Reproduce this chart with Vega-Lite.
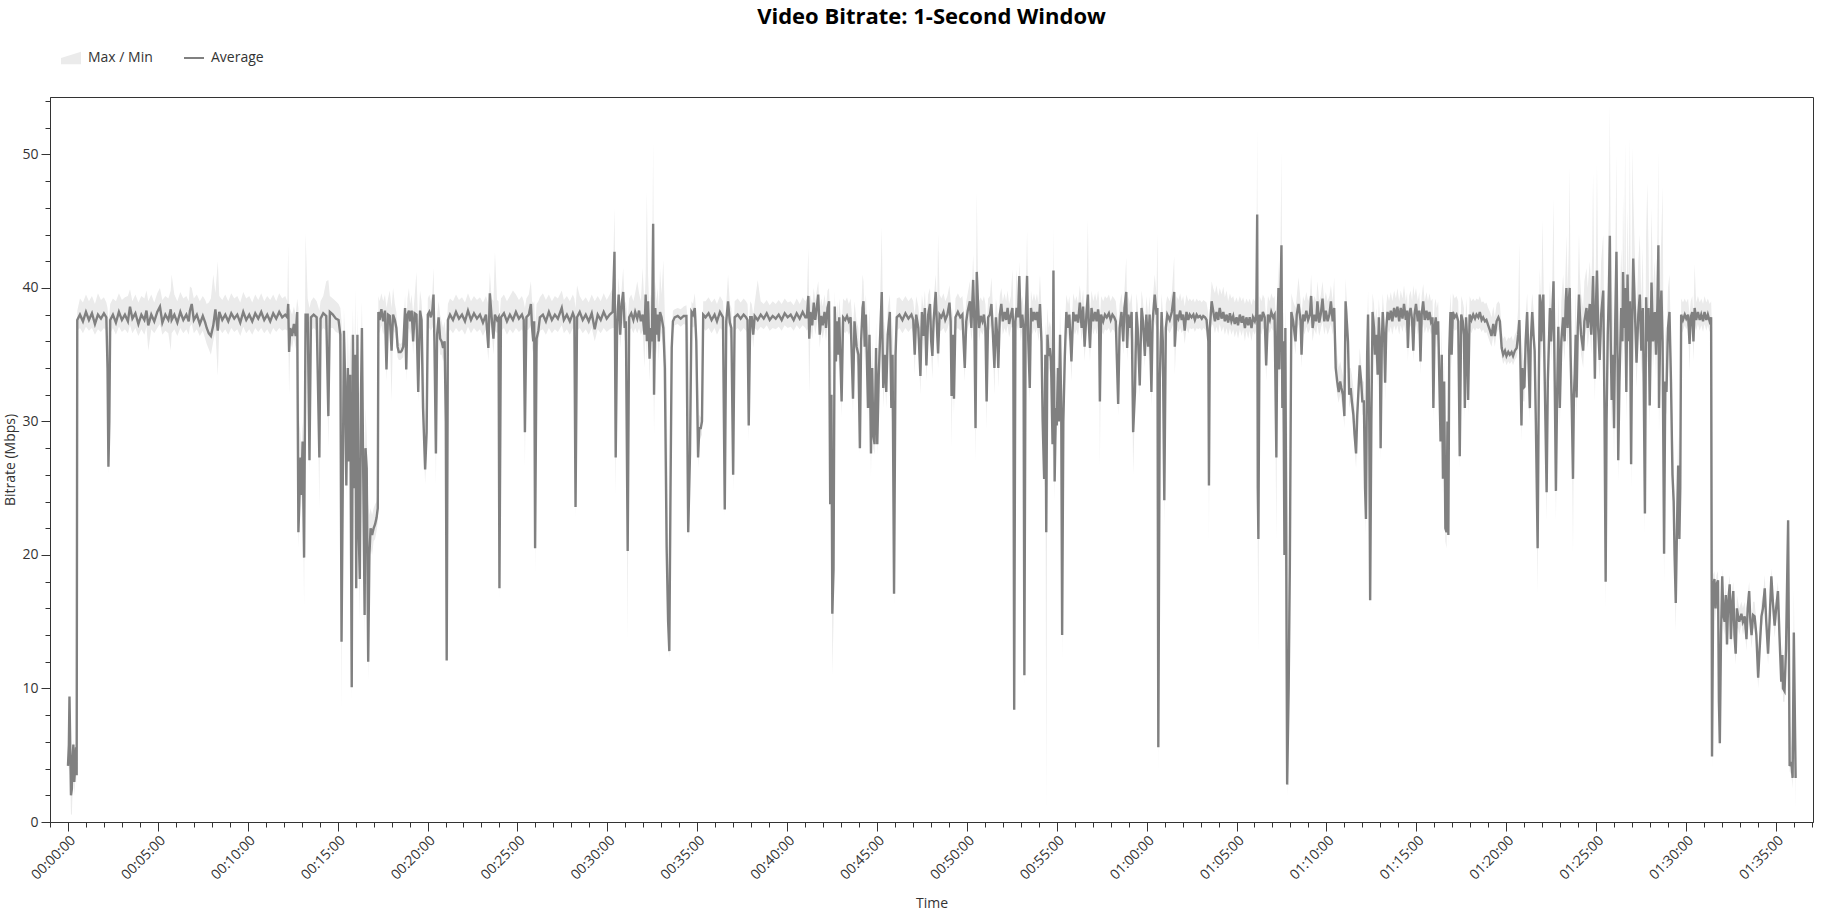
{
"$schema":"https://vega.github.io/schema/vega-lite/v6.json",
"width":1763,"height":725,
"autosize":"none",
"padding":{"left":50,"top":97,"right":19,"bottom":89},
"background":"white",
"title":{"text":"Video Bitrate: 1-Second Window","fontSize":22,"fontWeight":"bold","font":"Open Sans","color":"#000","anchor":"middle","dy":-14},
"data":{"values":[
{"t":0,"a":4.2,"l":3.8,"h":5.8},{"t":3,"a":5.8,"l":4.5,"h":6.5},{"t":5,"a":9.4,"l":4.0,"h":9.6},{"t":8,"a":5.0,"l":3.0,"h":6.0},{"t":10,"a":2.0,"l":0.5,"h":4.5},{"t":13,"a":2.5,"l":0.6,"h":3.5},{"t":15,"a":4.5,"l":2.0,"h":5.5},{"t":18,"a":5.8,"l":4.0,"h":6.2},{"t":21,"a":3.0,"l":2.0,"h":4.5},{"t":24,"a":4.2,"l":3.0,"h":5.0},{"t":27,"a":5.6,"l":4.0,"h":6.0},{"t":29,"a":3.5,"l":2.5,"h":5.0},{"t":31,"a":37.6,"l":36.8,"h":38.3},
{"t":40,"a":38.0,"l":37.0,"h":39.2},{"t":50,"a":37.5,"l":36.6,"h":38.9},{"t":60,"a":38.2,"l":37.1,"h":39.5},{"t":70,"a":37.6,"l":36.8,"h":39.0},{"t":80,"a":38.1,"l":37.0,"h":39.4},{"t":90,"a":37.3,"l":36.5,"h":38.8},{"t":100,"a":38.0,"l":36.9,"h":39.6},{"t":110,"a":37.7,"l":36.7,"h":39.1},{"t":120,"a":38.1,"l":37.0,"h":39.3},{"t":128,"a":37.8,"l":36.8,"h":38.9},{"t":132,"a":34.0,"l":33.0,"h":38.5},{"t":135,"a":26.6,"l":26.0,"h":37.5},{"t":138,"a":30.0,"l":29.0,"h":38.0},{"t":141,"a":37.6,"l":36.6,"h":38.8},{"t":150,"a":38.0,"l":37.0,"h":39.2},{"t":160,"a":37.4,"l":36.5,"h":39.0},{"t":170,"a":38.2,"l":37.1,"h":39.6},{"t":180,"a":37.6,"l":36.7,"h":39.1},{"t":190,"a":38.0,"l":36.9,"h":39.3},{"t":200,"a":37.5,"l":36.6,"h":39.4},{"t":207,"a":38.6,"l":37.2,"h":39.9},{"t":215,"a":37.7,"l":36.6,"h":39.0},{"t":225,"a":38.1,"l":37.0,"h":39.5},{"t":235,"a":37.3,"l":36.4,"h":38.9},{"t":245,"a":38.0,"l":36.9,"h":39.4},{"t":255,"a":37.6,"l":36.5,"h":39.2},{"t":262,"a":38.3,"l":37.1,"h":39.8},{"t":268,"a":37.2,"l":35.3,"h":39.0},{"t":278,"a":38.0,"l":36.9,"h":39.5},{"t":288,"a":37.5,"l":36.6,"h":38.9},{"t":298,"a":38.2,"l":37.0,"h":39.6},{"t":307,"a":38.6,"l":37.3,"h":40.0},{"t":315,"a":37.4,"l":36.5,"h":39.1},{"t":325,"a":38.0,"l":36.8,"h":39.4},{"t":335,"a":37.6,"l":36.6,"h":39.2},{"t":343,"a":38.4,"l":35.3,"h":39.8},{"t":346,"a":37.6,"l":36.6,"h":41.0},{"t":355,"a":38.0,"l":36.9,"h":39.5},{"t":365,"a":37.4,"l":36.4,"h":39.0},{"t":375,"a":38.2,"l":37.0,"h":39.7},{"t":385,"a":37.6,"l":36.6,"h":39.2},{"t":395,"a":38.0,"l":36.9,"h":39.4},{"t":403,"a":37.5,"l":36.5,"h":39.0},{"t":407,"a":38.3,"l":37.1,"h":40.1},{"t":413,"a":38.8,"l":37.3,"h":40.0},{"t":420,"a":37.6,"l":36.6,"h":39.2},{"t":430,"a":38.0,"l":36.9,"h":39.5},{"t":440,"a":37.3,"l":36.4,"h":39.0},{"t":450,"a":37.9,"l":36.8,"h":39.4},{"t":458,"a":37.4,"l":36.2,"h":39.1},{"t":463,"a":37.0,"l":35.8,"h":38.8},{"t":470,"a":36.6,"l":35.4,"h":38.9},{"t":477,"a":36.4,"l":35.0,"h":39.2},{"t":485,"a":37.2,"l":36.0,"h":41.0},{"t":492,"a":38.4,"l":36.8,"h":39.6},{"t":500,"a":36.8,"l":33.4,"h":42.0},{"t":505,"a":38.2,"l":37.0,"h":39.4},{"t":515,"a":37.6,"l":36.6,"h":39.1},{"t":525,"a":38.0,"l":36.9,"h":39.5},{"t":535,"a":37.5,"l":36.5,"h":39.0},{"t":545,"a":38.1,"l":37.0,"h":39.6},{"t":555,"a":37.7,"l":36.7,"h":39.2},{"t":565,"a":38.0,"l":36.9,"h":39.4},{"t":575,"a":37.4,"l":36.4,"h":38.9},{"t":585,"a":38.2,"l":37.1,"h":39.7},{"t":595,"a":37.6,"l":36.6,"h":39.2},{"t":605,"a":38.0,"l":36.9,"h":39.4},{"t":615,"a":37.5,"l":36.5,"h":38.9},{"t":625,"a":38.1,"l":37.0,"h":39.5},{"t":635,"a":37.7,"l":36.7,"h":39.1},{"t":645,"a":38.2,"l":37.0,"h":39.6},{"t":655,"a":37.6,"l":36.6,"h":39.0},{"t":665,"a":38.0,"l":36.9,"h":39.4},{"t":675,"a":37.5,"l":36.5,"h":39.1},{"t":685,"a":38.1,"l":37.0,"h":39.5},{"t":695,"a":37.7,"l":36.7,"h":39.0},{"t":705,"a":38.2,"l":37.0,"h":39.6},{"t":715,"a":37.8,"l":36.8,"h":39.2},{"t":725,"a":38.0,"l":36.9,"h":39.4},{"t":732,"a":37.8,"l":36.8,"h":39.0},
{"t":735,"a":38.8,"l":37.0,"h":43.2},{"t":738,"a":35.2,"l":32.0,"h":38.5},{"t":742,"a":37.0,"l":36.0,"h":38.4},{"t":748,"a":36.4,"l":35.5,"h":38.0},{"t":754,"a":37.3,"l":36.3,"h":38.6},{"t":760,"a":36.4,"l":35.4,"h":38.0},{"t":765,"a":38.2,"l":37.0,"h":39.2},{"t":769,"a":21.7,"l":20.5,"h":38.5},{"t":772,"a":23.8,"l":22.5,"h":30.0},{"t":776,"a":27.3,"l":26.0,"h":29.0},{"t":779,"a":24.5,"l":23.5,"h":27.5},{"t":783,"a":28.5,"l":27.0,"h":30.0},{"t":788,"a":19.8,"l":16.1,"h":28.0},{"t":793,"a":38.0,"l":36.5,"h":44.1},{"t":800,"a":38.0,"l":37.0,"h":39.2},{"t":806,"a":27.1,"l":26.0,"h":38.5},{"t":811,"a":37.8,"l":36.8,"h":39.0},{"t":820,"a":38.0,"l":37.0,"h":39.3},{"t":830,"a":37.8,"l":36.8,"h":39.0},{"t":839,"a":27.3,"l":23.4,"h":38.3},{"t":843,"a":37.7,"l":36.7,"h":39.0},{"t":852,"a":38.1,"l":37.0,"h":39.4},{"t":862,"a":37.9,"l":36.8,"h":40.5},{"t":869,"a":30.4,"l":28.0,"h":40.6},{"t":874,"a":38.2,"l":37.0,"h":39.4},{"t":884,"a":38.0,"l":37.0,"h":39.2},{"t":894,"a":37.7,"l":36.7,"h":39.0},{"t":903,"a":37.6,"l":36.6,"h":38.8},{"t":909,"a":36.5,"l":35.5,"h":38.5},{"t":913,"a":13.5,"l":8.4,"h":37.5},{"t":917,"a":25.0,"l":23.5,"h":30.0},{"t":921,"a":36.8,"l":35.0,"h":38.5},{"t":925,"a":33.0,"l":31.5,"h":36.0},{"t":929,"a":25.2,"l":24.0,"h":30.0},{"t":934,"a":34.0,"l":32.0,"h":37.0},{"t":938,"a":27.0,"l":25.5,"h":33.0},{"t":942,"a":33.5,"l":31.0,"h":36.5},{"t":947,"a":10.1,"l":8.9,"h":34.0},{"t":951,"a":36.5,"l":35.0,"h":38.5},{"t":955,"a":25.0,"l":23.5,"h":33.0},{"t":959,"a":35.0,"l":33.0,"h":40.0},{"t":962,"a":17.5,"l":16.0,"h":30.0},{"t":966,"a":36.5,"l":35.0,"h":38.5},{"t":970,"a":22.0,"l":20.5,"h":30.0},{"t":974,"a":18.2,"l":15.0,"h":24.0},{"t":978,"a":32.0,"l":29.0,"h":36.0},{"t":981,"a":37.0,"l":35.5,"h":39.0},{"t":985,"a":27.0,"l":25.5,"h":33.0},{"t":990,"a":15.5,"l":13.5,"h":24.0},{"t":993,"a":28.0,"l":26.0,"h":31.0},{"t":997,"a":26.5,"l":24.5,"h":29.0},{"t":1002,"a":12.0,"l":10.5,"h":24.0},{"t":1006,"a":20.0,"l":18.0,"h":23.0},{"t":1010,"a":22.0,"l":20.5,"h":23.5},{"t":1015,"a":21.5,"l":20.0,"h":23.0},{"t":1020,"a":22.0,"l":21.0,"h":23.5},{"t":1025,"a":22.3,"l":21.2,"h":23.8},{"t":1030,"a":22.8,"l":21.8,"h":24.0},{"t":1034,"a":23.5,"l":22.5,"h":25.0},{"t":1036,"a":38.2,"l":37.0,"h":39.4},
{"t":1040,"a":37.6,"l":36.6,"h":39.0},{"t":1046,"a":38.4,"l":37.2,"h":39.6},{"t":1052,"a":37.5,"l":36.5,"h":39.0},{"t":1058,"a":38.3,"l":37.0,"h":39.5},{"t":1063,"a":33.9,"l":33.0,"h":38.5},{"t":1068,"a":38.0,"l":36.9,"h":39.2},{"t":1074,"a":37.9,"l":36.8,"h":39.8},{"t":1080,"a":35.3,"l":31.5,"h":38.5},{"t":1085,"a":38.0,"l":36.9,"h":40.0},{"t":1091,"a":37.6,"l":36.6,"h":38.8},{"t":1096,"a":37.0,"l":36.0,"h":38.2},{"t":1100,"a":35.6,"l":34.8,"h":36.8},{"t":1104,"a":35.2,"l":34.6,"h":35.9},{"t":1110,"a":35.2,"l":34.6,"h":35.8},{"t":1114,"a":35.3,"l":34.7,"h":35.9},{"t":1119,"a":35.6,"l":34.8,"h":36.5},{"t":1125,"a":38.5,"l":37.0,"h":39.5},{"t":1129,"a":33.9,"l":33.0,"h":37.0},{"t":1133,"a":38.0,"l":36.8,"h":39.2},{"t":1138,"a":38.3,"l":37.0,"h":40.0},{"t":1142,"a":37.5,"l":36.5,"h":38.8},{"t":1147,"a":38.3,"l":37.0,"h":39.5},{"t":1152,"a":36.0,"l":35.0,"h":38.0},{"t":1157,"a":38.1,"l":37.0,"h":39.4},{"t":1163,"a":38.0,"l":36.8,"h":41.2},{"t":1169,"a":32.2,"l":31.5,"h":37.0},{"t":1175,"a":38.3,"l":37.0,"h":39.8},{"t":1180,"a":37.6,"l":36.5,"h":39.0},{"t":1185,"a":31.0,"l":30.0,"h":37.0},{"t":1192,"a":26.4,"l":25.3,"h":30.0},{"t":1197,"a":29.2,"l":28.0,"h":32.0},{"t":1201,"a":38.0,"l":36.8,"h":39.2},{"t":1206,"a":38.2,"l":37.0,"h":39.5},{"t":1211,"a":37.8,"l":36.8,"h":39.0},{"t":1216,"a":38.3,"l":37.0,"h":39.6},{"t":1220,"a":39.5,"l":37.5,"h":41.5},{"t":1223,"a":36.0,"l":35.0,"h":38.5},{"t":1228,"a":27.6,"l":25.2,"h":33.0},{"t":1232,"a":36.5,"l":35.0,"h":38.0},{"t":1237,"a":37.8,"l":36.5,"h":39.0},{"t":1242,"a":36.2,"l":35.0,"h":38.0},{"t":1247,"a":36.0,"l":35.0,"h":37.5},{"t":1252,"a":35.5,"l":34.5,"h":37.0},{"t":1257,"a":36.0,"l":35.0,"h":37.5},{"t":1261,"a":30.0,"l":28.0,"h":36.5},{"t":1264,"a":12.1,"l":11.6,"h":37.0},{"t":1268,"a":37.6,"l":36.5,"h":38.8},
{"t":1275,"a":38.0,"l":36.9,"h":39.2},{"t":1285,"a":37.6,"l":36.6,"h":39.0},{"t":1295,"a":38.2,"l":37.0,"h":39.5},{"t":1305,"a":37.7,"l":36.7,"h":39.1},{"t":1315,"a":38.0,"l":36.9,"h":39.3},{"t":1325,"a":37.5,"l":36.5,"h":38.9},{"t":1335,"a":38.3,"l":37.1,"h":39.6},{"t":1345,"a":37.6,"l":36.6,"h":39.0},{"t":1355,"a":38.1,"l":37.0,"h":39.4},{"t":1365,"a":37.7,"l":36.7,"h":39.1},{"t":1375,"a":38.0,"l":36.9,"h":39.3},{"t":1385,"a":37.4,"l":36.4,"h":38.9},{"t":1395,"a":38.0,"l":36.9,"h":39.4},{"t":1403,"a":35.5,"l":34.5,"h":38.8},{"t":1408,"a":39.6,"l":37.5,"h":41.2},{"t":1414,"a":37.8,"l":36.8,"h":39.2},{"t":1420,"a":36.2,"l":35.0,"h":39.0},{"t":1425,"a":38.0,"l":36.8,"h":42.7},{"t":1432,"a":37.6,"l":36.6,"h":39.1},{"t":1437,"a":37.8,"l":36.8,"h":39.0},{"t":1440,"a":17.5,"l":16.5,"h":37.6},{"t":1445,"a":37.8,"l":36.8,"h":39.2},{"t":1455,"a":38.1,"l":37.0,"h":39.5},{"t":1465,"a":37.5,"l":36.5,"h":39.0},{"t":1475,"a":38.0,"l":36.9,"h":39.4},{"t":1485,"a":37.6,"l":36.6,"h":39.8},{"t":1495,"a":38.2,"l":37.0,"h":39.5},{"t":1505,"a":37.7,"l":36.7,"h":39.1},{"t":1515,"a":38.0,"l":36.9,"h":39.4},{"t":1521,"a":37.6,"l":36.6,"h":39.0},{"t":1525,"a":29.2,"l":26.6,"h":38.5},{"t":1530,"a":37.8,"l":36.8,"h":39.2},{"t":1538,"a":38.0,"l":36.9,"h":39.5},{"t":1545,"a":38.8,"l":37.2,"h":40.5},{"t":1549,"a":37.0,"l":35.5,"h":39.0},{"t":1553,"a":36.0,"l":35.0,"h":38.8},{"t":1556,"a":37.5,"l":35.5,"h":39.0},{"t":1559,"a":20.5,"l":18.5,"h":37.0},{"t":1564,"a":36.2,"l":35.0,"h":38.8},{"t":1570,"a":36.8,"l":35.8,"h":39.0},{"t":1575,"a":37.8,"l":36.8,"h":39.3},{"t":1585,"a":38.0,"l":36.9,"h":39.6},{"t":1595,"a":37.5,"l":36.5,"h":39.1},{"t":1605,"a":38.2,"l":37.0,"h":39.5},{"t":1615,"a":37.6,"l":36.6,"h":39.0},{"t":1625,"a":38.0,"l":36.9,"h":39.4},{"t":1635,"a":37.7,"l":36.7,"h":39.2},{"t":1648,"a":38.5,"l":37.2,"h":39.8},{"t":1655,"a":37.6,"l":36.6,"h":39.1},{"t":1665,"a":38.0,"l":36.9,"h":39.4},{"t":1675,"a":37.5,"l":36.5,"h":39.0},{"t":1685,"a":38.1,"l":37.0,"h":39.5},{"t":1690,"a":37.8,"l":36.8,"h":39.2},{"t":1694,"a":23.6,"l":22.6,"h":38.5},{"t":1699,"a":37.8,"l":36.8,"h":40.2},{"t":1708,"a":38.2,"l":37.0,"h":39.4},{"t":1718,"a":37.6,"l":36.6,"h":39.0},{"t":1728,"a":38.0,"l":36.9,"h":39.3},{"t":1738,"a":37.5,"l":36.5,"h":38.9},{"t":1748,"a":38.1,"l":37.0,"h":39.5},{"t":1758,"a":36.9,"l":36.0,"h":39.0},{"t":1768,"a":38.0,"l":36.9,"h":39.4},{"t":1778,"a":37.6,"l":36.6,"h":39.0},{"t":1788,"a":38.2,"l":37.0,"h":39.6},{"t":1798,"a":37.7,"l":36.7,"h":39.1},{"t":1808,"a":38.0,"l":36.9,"h":39.5},
{"t":1818,"a":38.2,"l":37.0,"h":40.0},{"t":1824,"a":42.7,"l":37.0,"h":46.0},{"t":1828,"a":27.3,"l":24.5,"h":38.0},{"t":1833,"a":37.5,"l":36.5,"h":39.0},{"t":1838,"a":39.5,"l":37.5,"h":40.8},{"t":1843,"a":36.5,"l":35.5,"h":38.5},{"t":1848,"a":38.8,"l":37.0,"h":40.0},{"t":1853,"a":39.7,"l":37.5,"h":41.5},{"t":1858,"a":37.0,"l":36.0,"h":38.8},{"t":1862,"a":37.5,"l":36.5,"h":39.0},{"t":1868,"a":20.3,"l":13.5,"h":37.6},{"t":1873,"a":37.8,"l":36.8,"h":39.2},{"t":1880,"a":38.1,"l":37.0,"h":39.5},{"t":1887,"a":37.6,"l":36.6,"h":39.0},{"t":1893,"a":38.2,"l":37.0,"h":39.6},{"t":1900,"a":37.7,"l":36.6,"h":40.5},{"t":1906,"a":38.3,"l":37.0,"h":39.6},{"t":1912,"a":37.5,"l":36.5,"h":39.0},{"t":1918,"a":38.0,"l":36.8,"h":41.5},{"t":1924,"a":36.5,"l":34.0,"h":38.5},{"t":1928,"a":39.5,"l":37.5,"h":41.0},{"t":1932,"a":36.0,"l":34.5,"h":47.2},{"t":1936,"a":39.0,"l":37.0,"h":41.0},{"t":1941,"a":34.7,"l":33.0,"h":38.0},{"t":1945,"a":37.0,"l":35.5,"h":39.5},{"t":1949,"a":36.0,"l":34.5,"h":39.0},{"t":1953,"a":44.8,"l":36.0,"h":51.0},{"t":1956,"a":32.0,"l":29.0,"h":38.0},{"t":1960,"a":38.5,"l":36.5,"h":40.5},{"t":1964,"a":36.5,"l":35.0,"h":39.0},{"t":1968,"a":38.0,"l":36.5,"h":40.0},{"t":1972,"a":36.0,"l":34.5,"h":38.5},{"t":1976,"a":38.2,"l":37.0,"h":41.5},{"t":1981,"a":37.8,"l":36.5,"h":39.5},{"t":1987,"a":37.0,"l":35.5,"h":42.1},{"t":1992,"a":34.0,"l":32.5,"h":38.0},{"t":1998,"a":20.6,"l":19.5,"h":34.0},{"t":2003,"a":15.0,"l":14.0,"h":21.0},{"t":2007,"a":12.8,"l":12.2,"h":16.0},{"t":2011,"a":25.0,"l":22.0,"h":27.0},{"t":2015,"a":35.5,"l":33.0,"h":36.5},{"t":2019,"a":37.5,"l":36.5,"h":38.3},{"t":2025,"a":37.8,"l":37.2,"h":38.4},{"t":2035,"a":37.9,"l":37.3,"h":38.5},{"t":2045,"a":37.7,"l":37.1,"h":38.4},{"t":2055,"a":37.9,"l":37.3,"h":38.6},{"t":2064,"a":37.9,"l":37.2,"h":38.7},{"t":2070,"a":21.7,"l":21.0,"h":37.0},{"t":2076,"a":27.6,"l":26.5,"h":30.0},{"t":2081,"a":38.2,"l":37.2,"h":39.0},{"t":2086,"a":38.0,"l":37.0,"h":38.8},{"t":2092,"a":38.5,"l":37.2,"h":39.6},{"t":2097,"a":36.0,"l":35.0,"h":38.0},{"t":2103,"a":27.3,"l":26.5,"h":33.0},{"t":2107,"a":29.5,"l":28.5,"h":30.5},{"t":2112,"a":29.5,"l":28.8,"h":30.3},{"t":2116,"a":30.0,"l":29.0,"h":31.0},{"t":2120,"a":38.0,"l":37.0,"h":39.0},{"t":2128,"a":37.8,"l":36.8,"h":39.0},{"t":2138,"a":38.1,"l":37.0,"h":39.3},{"t":2148,"a":37.6,"l":36.6,"h":38.9},{"t":2158,"a":38.0,"l":37.0,"h":39.2},{"t":2166,"a":37.5,"l":36.5,"h":38.8},{"t":2176,"a":38.2,"l":37.0,"h":39.4},{"t":2186,"a":37.8,"l":36.8,"h":39.0},{"t":2192,"a":23.4,"l":22.8,"h":37.0},{"t":2197,"a":37.5,"l":36.5,"h":38.8},{"t":2203,"a":39.0,"l":37.5,"h":41.0},{"t":2209,"a":37.4,"l":36.4,"h":38.8},{"t":2214,"a":37.0,"l":36.0,"h":38.5},{"t":2220,"a":26.0,"l":24.7,"h":35.0},{"t":2225,"a":37.8,"l":36.8,"h":39.0},{"t":2235,"a":38.0,"l":37.0,"h":39.2},{"t":2245,"a":37.7,"l":36.7,"h":38.9},{"t":2255,"a":38.0,"l":37.0,"h":39.2},{"t":2263,"a":37.8,"l":36.8,"h":39.0},{"t":2268,"a":37.6,"l":36.6,"h":38.8},{"t":2272,"a":29.7,"l":28.5,"h":37.0},{"t":2277,"a":37.8,"l":36.8,"h":39.0},
{"t":2282,"a":37.8,"l":37.0,"h":38.8},{"t":2287,"a":36.5,"l":35.5,"h":38.0},{"t":2292,"a":37.9,"l":37.0,"h":38.9},{"t":2302,"a":37.6,"l":36.8,"h":40.6},{"t":2312,"a":38.0,"l":37.1,"h":39.0},{"t":2322,"a":37.7,"l":36.9,"h":38.8},{"t":2332,"a":38.1,"l":37.2,"h":39.1},{"t":2342,"a":37.6,"l":36.8,"h":38.7},{"t":2352,"a":37.9,"l":37.0,"h":39.0},{"t":2362,"a":37.7,"l":36.9,"h":38.8},{"t":2372,"a":38.0,"l":37.1,"h":39.1},{"t":2382,"a":37.6,"l":36.8,"h":38.8},{"t":2392,"a":38.1,"l":37.2,"h":39.2},{"t":2402,"a":37.8,"l":37.0,"h":38.9},{"t":2412,"a":38.0,"l":37.1,"h":39.0},{"t":2422,"a":37.6,"l":36.8,"h":38.7},{"t":2432,"a":38.1,"l":37.2,"h":39.2},{"t":2442,"a":37.7,"l":36.9,"h":38.8},{"t":2452,"a":38.2,"l":37.2,"h":39.3},{"t":2461,"a":37.8,"l":37.0,"h":39.0},{"t":2466,"a":37.8,"l":36.8,"h":39.2},{"t":2471,"a":39.4,"l":37.0,"h":43.0},{"t":2474,"a":36.2,"l":32.0,"h":38.5},{"t":2478,"a":38.2,"l":37.0,"h":39.5},{"t":2484,"a":37.2,"l":36.2,"h":38.6},{"t":2489,"a":38.9,"l":37.5,"h":40.0},{"t":2494,"a":37.6,"l":36.5,"h":39.0},{"t":2499,"a":38.5,"l":37.2,"h":39.8},{"t":2504,"a":39.5,"l":37.8,"h":40.5},{"t":2509,"a":36.5,"l":35.5,"h":38.5},{"t":2514,"a":37.9,"l":36.8,"h":39.2},{"t":2519,"a":37.2,"l":36.2,"h":38.6},{"t":2525,"a":38.2,"l":37.0,"h":39.5},{"t":2530,"a":37.0,"l":36.0,"h":38.5},{"t":2535,"a":38.5,"l":37.2,"h":39.8},{"t":2540,"a":39.0,"l":37.5,"h":40.0},{"t":2544,"a":23.8,"l":22.5,"h":38.0},{"t":2548,"a":32.0,"l":30.0,"h":35.0},{"t":2551,"a":15.6,"l":11.0,"h":30.0},{"t":2555,"a":18.9,"l":15.0,"h":25.0},{"t":2559,"a":38.6,"l":37.0,"h":39.8},{"t":2563,"a":34.5,"l":33.0,"h":37.0},{"t":2567,"a":37.5,"l":36.5,"h":39.0},{"t":2571,"a":35.0,"l":34.0,"h":37.5},{"t":2574,"a":37.8,"l":36.8,"h":39.2},{"t":2582,"a":31.5,"l":30.3,"h":37.0},{"t":2587,"a":37.8,"l":36.8,"h":39.2},{"t":2594,"a":37.6,"l":36.6,"h":39.0},{"t":2600,"a":37.9,"l":36.8,"h":39.3},{"t":2606,"a":37.5,"l":36.5,"h":38.8},{"t":2612,"a":37.8,"l":36.8,"h":39.2},{"t":2620,"a":31.7,"l":30.5,"h":37.0},{"t":2625,"a":37.5,"l":36.5,"h":39.0},{"t":2632,"a":35.6,"l":34.5,"h":37.5},{"t":2638,"a":35.0,"l":34.0,"h":37.0},{"t":2643,"a":28.0,"l":27.5,"h":33.0},{"t":2647,"a":36.0,"l":34.5,"h":38.0},{"t":2652,"a":38.5,"l":37.0,"h":41.0},{"t":2655,"a":39.0,"l":37.5,"h":40.5},{"t":2659,"a":35.6,"l":34.5,"h":38.0},{"t":2663,"a":38.0,"l":36.8,"h":39.5},{"t":2670,"a":31.0,"l":30.0,"h":36.0},{"t":2675,"a":36.5,"l":35.0,"h":38.5},{"t":2680,"a":27.6,"l":25.8,"h":33.0},{"t":2684,"a":34.0,"l":32.5,"h":36.0},{"t":2688,"a":29.0,"l":28.0,"h":33.0},{"t":2692,"a":28.3,"l":27.5,"h":31.0},{"t":2697,"a":35.5,"l":34.0,"h":37.5},{"t":2701,"a":28.3,"l":27.5,"h":33.0},{"t":2706,"a":33.5,"l":32.0,"h":36.0},{"t":2710,"a":36.0,"l":34.5,"h":38.5},{"t":2716,"a":39.7,"l":37.5,"h":44.6},{"t":2721,"a":32.5,"l":31.0,"h":36.0},{"t":2726,"a":35.0,"l":33.5,"h":37.5},{"t":2731,"a":32.2,"l":31.0,"h":35.5},{"t":2736,"a":36.5,"l":35.0,"h":38.5},{"t":2743,"a":38.2,"l":37.0,"h":39.5},{"t":2748,"a":31.0,"l":30.0,"h":36.0},{"t":2752,"a":35.0,"l":33.5,"h":37.5},{"t":2757,"a":17.1,"l":16.1,"h":33.0},{"t":2762,"a":35.0,"l":33.0,"h":37.5},{"t":2766,"a":37.8,"l":36.8,"h":39.2},{"t":2775,"a":38.0,"l":37.0,"h":39.3},{"t":2785,"a":37.6,"l":36.6,"h":39.0},{"t":2795,"a":38.1,"l":37.0,"h":39.4},{"t":2805,"a":37.7,"l":36.7,"h":39.0},{"t":2815,"a":38.0,"l":37.0,"h":39.3},{"t":2821,"a":37.6,"l":36.6,"h":39.0},{"t":2826,"a":35.0,"l":33.5,"h":38.0},{"t":2831,"a":38.0,"l":36.8,"h":39.4},{"t":2838,"a":37.0,"l":36.0,"h":38.6},{"t":2845,"a":33.4,"l":32.0,"h":37.0},{"t":2850,"a":38.2,"l":37.0,"h":39.5},{"t":2855,"a":36.4,"l":35.3,"h":38.5},{"t":2860,"a":38.5,"l":37.2,"h":39.8},{"t":2865,"a":34.2,"l":33.0,"h":37.5},{"t":2871,"a":38.0,"l":36.8,"h":39.5},{"t":2877,"a":38.8,"l":37.5,"h":40.0},{"t":2881,"a":36.0,"l":35.0,"h":38.0},{"t":2885,"a":34.9,"l":33.2,"h":37.5},{"t":2889,"a":37.5,"l":36.5,"h":39.0},{"t":2896,"a":39.7,"l":37.5,"h":41.0},{"t":2901,"a":36.6,"l":35.5,"h":38.5},{"t":2904,"a":35.1,"l":34.0,"h":44.1},{"t":2909,"a":38.0,"l":36.8,"h":39.5},{"t":2915,"a":37.8,"l":36.8,"h":39.2},{"t":2922,"a":38.2,"l":37.0,"h":39.6},{"t":2928,"a":37.6,"l":36.6,"h":39.0},{"t":2935,"a":38.0,"l":36.9,"h":39.4},{"t":2942,"a":38.9,"l":37.5,"h":40.2},{"t":2946,"a":37.5,"l":36.5,"h":39.0},{"t":2949,"a":31.9,"l":28.0,"h":37.0},{"t":2953,"a":36.5,"l":35.0,"h":38.5},{"t":2957,"a":31.7,"l":30.5,"h":36.0},{"t":2962,"a":37.8,"l":36.8,"h":39.2},{"t":2970,"a":38.2,"l":37.0,"h":39.6},{"t":2978,"a":37.8,"l":36.8,"h":39.2},{"t":2985,"a":38.0,"l":36.9,"h":39.4},{"t":2993,"a":34.0,"l":33.0,"h":37.5},{"t":2998,"a":37.5,"l":36.5,"h":39.0},{"t":3003,"a":38.3,"l":37.0,"h":39.6},{"t":3010,"a":39.0,"l":37.5,"h":40.5},{"t":3015,"a":37.0,"l":36.0,"h":38.8},{"t":3021,"a":40.6,"l":37.5,"h":42.5},{"t":3025,"a":37.5,"l":36.5,"h":39.5},{"t":3029,"a":29.5,"l":27.0,"h":36.0},{"t":3033,"a":41.2,"l":37.0,"h":47.2},{"t":3037,"a":39.0,"l":37.5,"h":41.0},{"t":3041,"a":37.0,"l":36.0,"h":39.0},{"t":3046,"a":37.9,"l":36.8,"h":39.3},{"t":3052,"a":37.5,"l":36.5,"h":39.0},{"t":3057,"a":38.0,"l":36.9,"h":39.4},{"t":3062,"a":37.0,"l":36.0,"h":38.8},{"t":3066,"a":31.5,"l":29.4,"h":37.0},{"t":3071,"a":37.8,"l":36.8,"h":39.2},{"t":3077,"a":38.0,"l":36.9,"h":39.4},{"t":3082,"a":38.8,"l":37.3,"h":40.8},{"t":3087,"a":36.5,"l":35.5,"h":38.5},{"t":3092,"a":34.0,"l":32.0,"h":37.0},{"t":3097,"a":37.8,"l":36.8,"h":39.2},{"t":3101,"a":36.5,"l":35.5,"h":38.5},{"t":3105,"a":34.0,"l":32.5,"h":37.0},{"t":3110,"a":38.0,"l":36.9,"h":39.4},{"t":3115,"a":38.8,"l":37.5,"h":40.0},{"t":3120,"a":37.5,"l":36.5,"h":39.0},{"t":3126,"a":38.2,"l":37.0,"h":39.6},{"t":3131,"a":37.6,"l":36.6,"h":39.0},{"t":3136,"a":38.5,"l":37.2,"h":39.8},{"t":3141,"a":37.3,"l":36.3,"h":38.8},{"t":3147,"a":38.0,"l":36.9,"h":39.4},{"t":3152,"a":38.5,"l":37.2,"h":41.4},{"t":3155,"a":37.0,"l":36.0,"h":38.8},{"t":3158,"a":8.4,"l":8.0,"h":36.0},{"t":3162,"a":37.5,"l":36.5,"h":39.0},{"t":3166,"a":38.5,"l":37.2,"h":41.4},{"t":3171,"a":37.8,"l":36.8,"h":39.2},{"t":3175,"a":40.9,"l":37.5,"h":42.0},{"t":3180,"a":37.0,"l":36.0,"h":38.8},{"t":3185,"a":38.0,"l":36.9,"h":39.4},{"t":3189,"a":37.0,"l":36.0,"h":38.6},{"t":3192,"a":11.0,"l":9.8,"h":36.0},{"t":3196,"a":37.5,"l":36.5,"h":39.0},{"t":3201,"a":40.9,"l":37.5,"h":44.3},{"t":3205,"a":36.0,"l":35.0,"h":38.5},{"t":3210,"a":32.5,"l":31.5,"h":36.0},{"t":3214,"a":38.5,"l":37.2,"h":39.8},{"t":3219,"a":37.5,"l":36.5,"h":39.0},{"t":3224,"a":38.2,"l":37.0,"h":39.6},{"t":3229,"a":37.6,"l":36.6,"h":39.0},{"t":3234,"a":38.2,"l":37.0,"h":39.6},{"t":3239,"a":37.0,"l":36.0,"h":38.8},{"t":3244,"a":38.8,"l":37.3,"h":41.0},{"t":3249,"a":36.0,"l":35.0,"h":38.5},{"t":3253,"a":30.0,"l":29.0,"h":35.0},{"t":3258,"a":25.7,"l":25.0,"h":30.0},{"t":3262,"a":35.0,"l":33.5,"h":37.5},{"t":3265,"a":21.7,"l":0.4,"h":36.0},{"t":3269,"a":36.5,"l":35.0,"h":38.5},{"t":3273,"a":34.9,"l":33.5,"h":37.0},{"t":3277,"a":35.5,"l":34.0,"h":37.5},{"t":3281,"a":34.5,"l":33.0,"h":37.0},{"t":3286,"a":28.3,"l":27.0,"h":33.0},{"t":3289,"a":41.3,"l":36.0,"h":44.6},{"t":3293,"a":25.5,"l":24.0,"h":33.0},{"t":3297,"a":31.0,"l":29.5,"h":34.0},{"t":3300,"a":29.7,"l":28.5,"h":32.0},{"t":3304,"a":34.0,"l":32.5,"h":36.0},{"t":3307,"a":30.0,"l":29.0,"h":33.0},{"t":3311,"a":36.5,"l":35.0,"h":38.5},{"t":3315,"a":31.0,"l":29.5,"h":35.0},{"t":3318,"a":14.0,"l":12.0,"h":32.0},{"t":3322,"a":30.0,"l":28.0,"h":34.0},{"t":3327,"a":34.9,"l":33.5,"h":37.0},{"t":3332,"a":38.2,"l":37.0,"h":39.5},{"t":3338,"a":37.0,"l":36.0,"h":38.8},{"t":3342,"a":38.0,"l":36.9,"h":39.4},{"t":3349,"a":34.5,"l":33.0,"h":37.0},{"t":3355,"a":38.2,"l":37.0,"h":39.6},{"t":3361,"a":37.5,"l":36.5,"h":39.0},{"t":3366,"a":38.0,"l":36.9,"h":39.4},{"t":3371,"a":37.4,"l":36.4,"h":38.8},{"t":3377,"a":38.9,"l":37.5,"h":40.2},{"t":3383,"a":37.0,"l":36.0,"h":38.8},{"t":3388,"a":38.6,"l":37.2,"h":39.9},{"t":3393,"a":35.6,"l":34.5,"h":38.0},{"t":3399,"a":38.0,"l":36.9,"h":39.4},{"t":3404,"a":39.5,"l":37.5,"h":45.1},{"t":3407,"a":37.3,"l":36.3,"h":39.0},{"t":3411,"a":35.5,"l":34.5,"h":38.0},{"t":3416,"a":38.5,"l":37.2,"h":39.8},{"t":3422,"a":37.5,"l":36.5,"h":39.0},{"t":3428,"a":38.2,"l":37.0,"h":39.6},{"t":3433,"a":37.5,"l":36.5,"h":39.0},{"t":3438,"a":38.4,"l":37.2,"h":39.8},{"t":3441,"a":37.8,"l":36.8,"h":39.2},{"t":3444,"a":31.5,"l":26.6,"h":37.5},{"t":3448,"a":38.0,"l":36.9,"h":39.4},{"t":3455,"a":37.5,"l":36.5,"h":39.0},{"t":3461,"a":38.0,"l":36.9,"h":39.4},{"t":3467,"a":37.8,"l":36.8,"h":39.2},{"t":3474,"a":38.1,"l":37.0,"h":39.5},{"t":3480,"a":37.6,"l":36.6,"h":39.0},{"t":3486,"a":38.0,"l":36.9,"h":39.4},{"t":3492,"a":37.8,"l":36.8,"h":39.2},{"t":3497,"a":37.5,"l":36.5,"h":39.0},{"t":3505,"a":31.3,"l":30.4,"h":37.0},{"t":3510,"a":37.0,"l":36.0,"h":38.8},{"t":3516,"a":38.2,"l":37.0,"h":39.6},{"t":3522,"a":36.0,"l":35.0,"h":38.2},{"t":3526,"a":38.5,"l":37.2,"h":39.8},{"t":3532,"a":39.7,"l":37.5,"h":42.3},{"t":3535,"a":35.5,"l":34.5,"h":38.0},{"t":3539,"a":38.0,"l":36.9,"h":39.4},{"t":3544,"a":37.0,"l":36.0,"h":38.8},{"t":3550,"a":38.2,"l":37.0,"h":39.6},{"t":3555,"a":29.2,"l":26.0,"h":37.0},{"t":3561,"a":32.2,"l":31.0,"h":35.0},{"t":3566,"a":38.2,"l":37.0,"h":39.6},{"t":3570,"a":37.0,"l":36.0,"h":38.8},{"t":3577,"a":32.7,"l":31.8,"h":36.0},{"t":3583,"a":38.5,"l":37.2,"h":39.8},{"t":3588,"a":37.5,"l":36.5,"h":39.0},{"t":3594,"a":34.9,"l":34.0,"h":37.0},{"t":3599,"a":38.0,"l":36.9,"h":39.4},{"t":3605,"a":35.6,"l":34.5,"h":38.0},{"t":3610,"a":38.0,"l":36.9,"h":39.4},{"t":3616,"a":32.2,"l":31.0,"h":36.0},{"t":3620,"a":37.5,"l":36.5,"h":39.0},{"t":3627,"a":39.5,"l":37.5,"h":41.0},{"t":3633,"a":38.0,"l":36.9,"h":39.5},{"t":3636,"a":38.5,"l":37.0,"h":44.1},{"t":3639,"a":5.6,"l":3.5,"h":37.5},{"t":3644,"a":33.2,"l":31.0,"h":36.0},{"t":3650,"a":38.2,"l":37.0,"h":39.6},{"t":3654,"a":36.0,"l":35.0,"h":38.2},{"t":3659,"a":24.1,"l":22.0,"h":33.0},{"t":3664,"a":37.0,"l":36.0,"h":38.8},{"t":3669,"a":38.0,"l":36.9,"h":39.4},{"t":3677,"a":37.6,"l":36.6,"h":39.0},{"t":3684,"a":38.2,"l":37.0,"h":39.6},{"t":3692,"a":39.7,"l":37.5,"h":42.4},{"t":3694,"a":35.6,"l":33.5,"h":38.0},{"t":3700,"a":38.0,"l":36.9,"h":39.4},{"t":3706,"a":37.7,"l":36.7,"h":39.1},{"t":3712,"a":38.3,"l":37.0,"h":39.6},{"t":3717,"a":37.6,"l":36.6,"h":39.0},{"t":3722,"a":38.0,"l":36.9,"h":39.4},{"t":3727,"a":36.8,"l":35.8,"h":38.6},{"t":3733,"a":38.2,"l":37.0,"h":39.5},{"t":3739,"a":37.6,"l":36.6,"h":39.0},{"t":3744,"a":38.0,"l":37.0,"h":39.2},{"t":3750,"a":37.8,"l":36.9,"h":39.0},{"t":3756,"a":38.0,"l":37.0,"h":39.2},{"t":3761,"a":37.6,"l":36.7,"h":38.9},{"t":3767,"a":38.0,"l":37.0,"h":39.2},{"t":3772,"a":37.8,"l":36.9,"h":39.0},{"t":3778,"a":37.9,"l":37.0,"h":39.1},{"t":3784,"a":37.7,"l":36.8,"h":38.9},{"t":3789,"a":37.9,"l":37.0,"h":39.1},{"t":3795,"a":37.8,"l":36.9,"h":39.0},{"t":3800,"a":37.6,"l":36.7,"h":38.9},{"t":3806,"a":36.0,"l":35.0,"h":38.0},{"t":3808,"a":25.2,"l":20.8,"h":36.0},{"t":3811,"a":37.0,"l":36.0,"h":38.5},{"t":3817,"a":39.0,"l":37.3,"h":40.5},{"t":3822,"a":38.3,"l":37.2,"h":40.0},{"t":3828,"a":37.5,"l":36.6,"h":39.6},{"t":3833,"a":38.2,"l":37.1,"h":40.2},{"t":3839,"a":37.6,"l":36.6,"h":39.4},{"t":3844,"a":38.5,"l":37.3,"h":40.0},{"t":3850,"a":37.7,"l":36.7,"h":39.5},{"t":3856,"a":38.2,"l":37.1,"h":40.1},{"t":3861,"a":37.5,"l":36.5,"h":39.3},{"t":3867,"a":38.0,"l":37.0,"h":39.8},{"t":3872,"a":37.4,"l":36.4,"h":39.0},{"t":3878,"a":38.1,"l":37.0,"h":39.6},{"t":3883,"a":37.5,"l":36.5,"h":39.2},{"t":3889,"a":37.9,"l":36.9,"h":39.4},{"t":3894,"a":37.3,"l":36.3,"h":38.9},{"t":3900,"a":37.8,"l":36.8,"h":39.3},{"t":3905,"a":37.2,"l":36.2,"h":38.9},{"t":3911,"a":38.0,"l":36.9,"h":39.4},{"t":3917,"a":37.4,"l":36.4,"h":39.0},{"t":3922,"a":37.9,"l":36.9,"h":39.3},{"t":3928,"a":37.0,"l":36.0,"h":38.8},{"t":3933,"a":37.8,"l":36.8,"h":39.2},{"t":3939,"a":37.2,"l":36.2,"h":38.9},{"t":3944,"a":37.8,"l":36.8,"h":39.2},{"t":3950,"a":37.0,"l":36.0,"h":38.7},{"t":3955,"a":37.8,"l":36.8,"h":39.2},{"t":3961,"a":37.5,"l":36.5,"h":39.0},{"t":3966,"a":38.0,"l":36.9,"h":39.4},{"t":3969,"a":45.5,"l":37.5,"h":52.1},{"t":3971,"a":25.0,"l":20.0,"h":40.0},{"t":3973,"a":21.2,"l":12.6,"h":30.0},{"t":3977,"a":38.0,"l":36.9,"h":39.4},{"t":3983,"a":37.5,"l":36.5,"h":39.0},{"t":3988,"a":38.2,"l":37.0,"h":39.5},{"t":3994,"a":37.8,"l":36.8,"h":39.2},{"t":3999,"a":34.2,"l":33.0,"h":37.5},{"t":4005,"a":38.0,"l":36.9,"h":39.4},{"t":4011,"a":37.6,"l":36.6,"h":39.0},{"t":4016,"a":38.2,"l":37.0,"h":39.6},{"t":4022,"a":37.8,"l":36.8,"h":39.2},{"t":4027,"a":38.0,"l":36.9,"h":39.4},{"t":4033,"a":27.3,"l":21.0,"h":37.0},{"t":4036,"a":36.5,"l":35.0,"h":39.0},{"t":4040,"a":40.0,"l":37.5,"h":42.0},{"t":4043,"a":33.9,"l":32.0,"h":37.0},{"t":4046,"a":38.5,"l":37.0,"h":41.0},{"t":4050,"a":43.2,"l":38.0,"h":50.3},{"t":4053,"a":31.0,"l":29.0,"h":36.0},{"t":4056,"a":36.0,"l":34.5,"h":38.5},{"t":4060,"a":20.0,"l":18.0,"h":30.0},{"t":4063,"a":37.0,"l":35.5,"h":38.8},{"t":4069,"a":2.8,"l":1.9,"h":30.0},{"t":4074,"a":10.0,"l":8.0,"h":15.0},{"t":4078,"a":19.3,"l":18.0,"h":25.0},{"t":4083,"a":38.2,"l":37.0,"h":39.6},{"t":4089,"a":37.5,"l":36.5,"h":39.0},{"t":4097,"a":36.0,"l":35.0,"h":38.5},{"t":4101,"a":38.0,"l":36.9,"h":39.4},{"t":4107,"a":38.8,"l":37.3,"h":40.8},{"t":4114,"a":37.5,"l":36.5,"h":39.0},{"t":4117,"a":35.0,"l":34.0,"h":38.0},{"t":4122,"a":38.0,"l":36.9,"h":39.4},{"t":4127,"a":37.5,"l":36.5,"h":39.0},{"t":4133,"a":38.3,"l":37.1,"h":39.7},{"t":4139,"a":37.6,"l":36.6,"h":39.0},{"t":4145,"a":38.0,"l":36.9,"h":39.4},{"t":4149,"a":39.4,"l":37.5,"h":41.0},{"t":4154,"a":37.0,"l":36.0,"h":38.8},{"t":4160,"a":38.0,"l":36.9,"h":39.4},{"t":4166,"a":37.5,"l":36.5,"h":39.0},{"t":4170,"a":39.0,"l":37.3,"h":40.5},{"t":4176,"a":37.4,"l":36.4,"h":39.0},{"t":4181,"a":38.0,"l":36.9,"h":39.4},{"t":4187,"a":39.2,"l":37.5,"h":40.5},{"t":4193,"a":37.5,"l":36.5,"h":39.0},{"t":4198,"a":38.3,"l":37.1,"h":39.7},{"t":4204,"a":37.5,"l":36.5,"h":39.0},{"t":4210,"a":38.0,"l":36.9,"h":39.4},{"t":4215,"a":39.0,"l":37.3,"h":40.2},{"t":4221,"a":37.5,"l":36.5,"h":39.0},{"t":4226,"a":38.5,"l":37.2,"h":40.8},{"t":4231,"a":34.0,"l":33.0,"h":36.5},{"t":4236,"a":33.0,"l":32.0,"h":35.0},{"t":4241,"a":32.2,"l":31.4,"h":34.0},{"t":4246,"a":33.0,"l":32.0,"h":34.5},{"t":4250,"a":32.5,"l":31.5,"h":34.0},{"t":4255,"a":32.0,"l":31.0,"h":33.5},{"t":4260,"a":30.4,"l":29.5,"h":33.0},{"t":4264,"a":39.0,"l":36.0,"h":40.7},{"t":4268,"a":37.5,"l":36.0,"h":39.0},{"t":4272,"a":36.0,"l":35.0,"h":38.0},{"t":4276,"a":32.0,"l":31.0,"h":34.0},{"t":4281,"a":32.5,"l":31.5,"h":34.0},{"t":4285,"a":31.5,"l":30.5,"h":33.5},{"t":4290,"a":30.5,"l":29.5,"h":32.5},{"t":4294,"a":29.0,"l":28.0,"h":31.0},{"t":4299,"a":27.6,"l":26.5,"h":30.0},{"t":4303,"a":30.5,"l":29.0,"h":32.0},{"t":4307,"a":32.3,"l":31.0,"h":33.5},{"t":4311,"a":34.2,"l":33.0,"h":35.5},{"t":4316,"a":33.0,"l":32.0,"h":34.5},{"t":4320,"a":31.5,"l":30.5,"h":33.0},{"t":4325,"a":31.5,"l":30.5,"h":33.0},{"t":4329,"a":25.0,"l":24.0,"h":31.0},{"t":4332,"a":22.7,"l":21.5,"h":26.0},{"t":4336,"a":35.0,"l":33.0,"h":37.0},{"t":4339,"a":38.0,"l":36.5,"h":39.8},{"t":4343,"a":30.0,"l":28.0,"h":35.0},{"t":4346,"a":16.6,"l":15.8,"h":25.0},{"t":4350,"a":30.0,"l":28.0,"h":34.0},{"t":4354,"a":38.2,"l":37.0,"h":39.6},{"t":4359,"a":37.0,"l":36.0,"h":38.8},{"t":4362,"a":35.0,"l":34.0,"h":37.5},{"t":4367,"a":36.5,"l":35.5,"h":38.5},{"t":4371,"a":33.5,"l":32.5,"h":36.5},{"t":4375,"a":37.8,"l":36.8,"h":39.2},{"t":4378,"a":36.0,"l":35.0,"h":38.0},{"t":4381,"a":28.0,"l":27.0,"h":34.0},{"t":4385,"a":36.0,"l":35.0,"h":38.0},{"t":4388,"a":38.2,"l":37.0,"h":39.6},{"t":4393,"a":36.0,"l":35.0,"h":38.0},{"t":4396,"a":32.9,"l":31.5,"h":36.0},{"t":4400,"a":37.0,"l":36.0,"h":38.8},{"t":4404,"a":38.2,"l":37.0,"h":39.6},{"t":4409,"a":37.6,"l":36.6,"h":39.0},{"t":4415,"a":38.3,"l":37.1,"h":39.7},{"t":4420,"a":37.5,"l":36.5,"h":39.0},{"t":4426,"a":38.5,"l":37.2,"h":39.8},{"t":4432,"a":37.8,"l":36.8,"h":39.2},{"t":4437,"a":38.6,"l":37.2,"h":40.0},{"t":4443,"a":37.5,"l":36.5,"h":39.0},{"t":4448,"a":38.5,"l":37.2,"h":39.8},{"t":4454,"a":37.7,"l":36.7,"h":39.2},{"t":4459,"a":38.8,"l":37.3,"h":40.2},{"t":4465,"a":37.6,"l":36.6,"h":39.0},{"t":4469,"a":38.3,"l":37.1,"h":39.7},{"t":4472,"a":35.5,"l":34.5,"h":38.0},{"t":4476,"a":38.0,"l":36.9,"h":39.4},{"t":4481,"a":38.5,"l":37.2,"h":39.8},{"t":4486,"a":37.6,"l":36.6,"h":39.0},{"t":4490,"a":35.3,"l":34.5,"h":40.2},{"t":4494,"a":38.0,"l":36.9,"h":39.4},{"t":4499,"a":38.8,"l":37.3,"h":40.0},{"t":4505,"a":37.5,"l":36.5,"h":39.0},{"t":4510,"a":38.3,"l":37.1,"h":39.7},{"t":4514,"a":34.5,"l":33.5,"h":37.5},{"t":4518,"a":38.0,"l":36.9,"h":39.4},{"t":4523,"a":39.0,"l":37.3,"h":40.3},{"t":4528,"a":37.6,"l":36.6,"h":39.0},{"t":4534,"a":38.3,"l":37.1,"h":39.7},{"t":4539,"a":37.6,"l":36.6,"h":39.0},{"t":4544,"a":38.2,"l":37.0,"h":39.6},{"t":4549,"a":37.5,"l":36.5,"h":39.0},{"t":4554,"a":37.8,"l":36.8,"h":39.2},{"t":4557,"a":31.0,"l":30.0,"h":37.0},{"t":4561,"a":37.0,"l":36.0,"h":38.8},{"t":4565,"a":37.8,"l":36.8,"h":39.2},{"t":4568,"a":36.5,"l":35.5,"h":38.5},{"t":4573,"a":37.5,"l":36.5,"h":39.0},{"t":4577,"a":33.0,"l":32.0,"h":36.0},{"t":4581,"a":28.5,"l":27.5,"h":33.0},{"t":4585,"a":35.0,"l":34.0,"h":37.0},{"t":4589,"a":25.7,"l":24.5,"h":30.0},{"t":4593,"a":33.0,"l":32.0,"h":35.0},{"t":4597,"a":22.0,"l":21.0,"h":27.0},{"t":4601,"a":21.7,"l":20.5,"h":25.0},{"t":4604,"a":30.0,"l":28.5,"h":33.0},{"t":4607,"a":21.5,"l":20.5,"h":26.0},{"t":4610,"a":35.3,"l":34.0,"h":37.5},{"t":4614,"a":38.2,"l":37.0,"h":39.6},{"t":4618,"a":35.0,"l":34.0,"h":37.5},{"t":4622,"a":38.2,"l":37.0,"h":39.6},{"t":4628,"a":37.8,"l":36.8,"h":39.2},{"t":4634,"a":38.0,"l":36.9,"h":39.4},{"t":4640,"a":37.5,"l":36.5,"h":39.0},{"t":4645,"a":27.4,"l":26.5,"h":33.0},{"t":4650,"a":38.0,"l":36.9,"h":39.4},{"t":4655,"a":37.5,"l":36.5,"h":39.0},{"t":4659,"a":36.5,"l":35.5,"h":38.5},{"t":4662,"a":31.0,"l":30.0,"h":35.0},{"t":4666,"a":37.8,"l":36.8,"h":39.2},{"t":4669,"a":36.5,"l":35.5,"h":38.5},{"t":4673,"a":31.6,"l":30.5,"h":35.0},{"t":4678,"a":38.0,"l":36.9,"h":39.4},{"t":4684,"a":37.6,"l":36.6,"h":39.0},{"t":4690,"a":38.0,"l":37.0,"h":39.2},{"t":4696,"a":37.7,"l":36.8,"h":39.0},{"t":4701,"a":38.0,"l":37.0,"h":39.2},{"t":4707,"a":37.8,"l":36.9,"h":39.1},{"t":4712,"a":38.2,"l":37.0,"h":39.4},{"t":4718,"a":37.6,"l":36.7,"h":38.9},{"t":4723,"a":37.8,"l":36.9,"h":39.0},{"t":4729,"a":37.5,"l":36.6,"h":38.8},{"t":4734,"a":37.6,"l":36.7,"h":38.9},{"t":4740,"a":37.2,"l":36.3,"h":38.5},{"t":4746,"a":36.8,"l":35.9,"h":38.2},{"t":4751,"a":36.4,"l":35.6,"h":37.8},{"t":4757,"a":37.3,"l":36.4,"h":38.6},{"t":4762,"a":36.4,"l":35.6,"h":37.8},{"t":4768,"a":37.5,"l":36.6,"h":38.8},{"t":4774,"a":37.8,"l":36.9,"h":39.0},{"t":4779,"a":37.5,"l":36.6,"h":38.8},{"t":4785,"a":35.5,"l":34.8,"h":36.8},{"t":4790,"a":35.0,"l":34.3,"h":36.2},{"t":4796,"a":35.3,"l":34.6,"h":36.4},{"t":4801,"a":34.9,"l":34.2,"h":36.0},{"t":4807,"a":35.2,"l":34.5,"h":36.3},{"t":4812,"a":35.0,"l":34.3,"h":36.2},{"t":4818,"a":35.2,"l":34.5,"h":36.4},{"t":4823,"a":34.9,"l":34.2,"h":36.0},{"t":4829,"a":35.3,"l":34.6,"h":36.5},{"t":4835,"a":35.5,"l":34.8,"h":36.8},{"t":4840,"a":36.5,"l":35.5,"h":38.5},{"t":4844,"a":37.6,"l":36.0,"h":43.4},{"t":4847,"a":35.0,"l":34.0,"h":37.0},{"t":4851,"a":29.7,"l":28.5,"h":33.0},{"t":4854,"a":34.0,"l":33.0,"h":36.0},{"t":4857,"a":32.5,"l":31.5,"h":34.5},{"t":4861,"a":32.6,"l":31.5,"h":35.0},{"t":4865,"a":36.0,"l":35.0,"h":38.0},{"t":4870,"a":38.2,"l":37.0,"h":39.6},{"t":4874,"a":35.0,"l":34.0,"h":37.0},{"t":4879,"a":31.0,"l":30.0,"h":34.0},{"t":4882,"a":36.0,"l":35.0,"h":38.0},{"t":4887,"a":38.2,"l":37.0,"h":39.6},{"t":4891,"a":36.5,"l":35.5,"h":38.5},{"t":4895,"a":35.3,"l":34.0,"h":37.5},{"t":4899,"a":30.0,"l":28.0,"h":34.0},{"t":4905,"a":20.5,"l":17.1,"h":28.0},{"t":4909,"a":33.0,"l":31.0,"h":36.0},{"t":4912,"a":39.5,"l":37.0,"h":41.5},{"t":4917,"a":36.0,"l":34.5,"h":38.5},{"t":4921,"a":39.0,"l":37.0,"h":45.1},{"t":4924,"a":39.5,"l":37.0,"h":41.5},{"t":4928,"a":34.0,"l":32.5,"h":37.0},{"t":4931,"a":30.0,"l":28.5,"h":34.0},{"t":4935,"a":24.7,"l":22.5,"h":30.0},{"t":4939,"a":33.0,"l":31.0,"h":36.0},{"t":4946,"a":38.5,"l":37.0,"h":40.5},{"t":4950,"a":36.0,"l":34.5,"h":38.5},{"t":4954,"a":38.0,"l":36.5,"h":40.5},{"t":4958,"a":40.5,"l":37.5,"h":46.7},{"t":4962,"a":33.0,"l":31.5,"h":37.0},{"t":4966,"a":24.8,"l":22.5,"h":30.0},{"t":4970,"a":32.0,"l":30.0,"h":35.0},{"t":4974,"a":37.1,"l":35.5,"h":39.5},{"t":4979,"a":31.0,"l":29.5,"h":35.0},{"t":4984,"a":36.0,"l":34.5,"h":39.0},{"t":4990,"a":37.8,"l":36.0,"h":41.0},{"t":4995,"a":36.0,"l":34.5,"h":39.0},{"t":4999,"a":39.0,"l":37.0,"h":42.0},{"t":5001,"a":40.0,"l":37.5,"h":44.0},{"t":5005,"a":37.0,"l":35.5,"h":40.0},{"t":5009,"a":39.0,"l":37.0,"h":43.0},{"t":5012,"a":40.0,"l":37.5,"h":49.1},{"t":5015,"a":35.0,"l":33.5,"h":39.0},{"t":5019,"a":31.0,"l":29.5,"h":35.0},{"t":5023,"a":25.7,"l":20.0,"h":31.0},{"t":5026,"a":32.0,"l":30.0,"h":35.0},{"t":5029,"a":33.6,"l":32.0,"h":37.0},{"t":5032,"a":36.5,"l":35.0,"h":40.0},{"t":5035,"a":31.8,"l":30.0,"h":35.0},{"t":5039,"a":37.0,"l":35.5,"h":40.0},{"t":5043,"a":39.5,"l":37.0,"h":44.1},{"t":5046,"a":38.0,"l":36.5,"h":41.0},{"t":5050,"a":36.5,"l":35.0,"h":39.5},{"t":5057,"a":35.3,"l":34.0,"h":38.5},{"t":5061,"a":37.5,"l":36.0,"h":40.5},{"t":5068,"a":38.5,"l":37.0,"h":41.5},{"t":5072,"a":37.0,"l":35.5,"h":40.0},{"t":5079,"a":38.8,"l":37.0,"h":42.0},{"t":5084,"a":36.5,"l":35.0,"h":40.0},{"t":5087,"a":38.5,"l":37.0,"h":42.5},{"t":5090,"a":40.9,"l":37.5,"h":48.6},{"t":5094,"a":36.0,"l":34.0,"h":40.0},{"t":5096,"a":33.2,"l":31.5,"h":37.0},{"t":5100,"a":39.0,"l":37.0,"h":43.0},{"t":5103,"a":41.3,"l":38.0,"h":49.3},{"t":5107,"a":37.0,"l":35.0,"h":41.0},{"t":5112,"a":34.6,"l":33.0,"h":38.0},{"t":5117,"a":38.0,"l":36.0,"h":42.0},{"t":5124,"a":39.8,"l":37.0,"h":44.0},{"t":5128,"a":31.0,"l":29.0,"h":36.0},{"t":5132,"a":18.0,"l":15.9,"h":28.0},{"t":5135,"a":30.0,"l":28.0,"h":35.0},{"t":5139,"a":36.5,"l":34.5,"h":41.0},{"t":5143,"a":40.0,"l":37.0,"h":46.0},{"t":5146,"a":43.9,"l":38.0,"h":53.8},{"t":5149,"a":36.0,"l":34.0,"h":42.0},{"t":5152,"a":31.6,"l":29.5,"h":36.0},{"t":5156,"a":35.0,"l":33.0,"h":40.0},{"t":5160,"a":29.5,"l":27.0,"h":34.0},{"t":5164,"a":37.5,"l":35.5,"h":42.0},{"t":5168,"a":42.7,"l":38.0,"h":50.0},{"t":5172,"a":34.0,"l":32.0,"h":38.0},{"t":5174,"a":27.1,"l":25.5,"h":32.0},{"t":5178,"a":33.0,"l":31.0,"h":38.0},{"t":5184,"a":38.5,"l":36.5,"h":43.0},{"t":5188,"a":36.0,"l":34.0,"h":40.0},{"t":5190,"a":41.2,"l":37.5,"h":47.0},{"t":5194,"a":37.0,"l":35.0,"h":41.0},{"t":5197,"a":40.0,"l":37.0,"h":51.0},{"t":5201,"a":32.2,"l":30.0,"h":37.0},{"t":5205,"a":41.0,"l":37.5,"h":46.0},{"t":5209,"a":36.0,"l":34.0,"h":40.0},{"t":5213,"a":39.0,"l":37.0,"h":51.4},{"t":5217,"a":26.8,"l":25.0,"h":32.0},{"t":5221,"a":38.0,"l":35.0,"h":50.6},{"t":5224,"a":42.2,"l":38.0,"h":47.0},{"t":5229,"a":38.7,"l":36.5,"h":43.0},{"t":5235,"a":34.4,"l":32.5,"h":38.0},{"t":5241,"a":38.0,"l":36.0,"h":42.0},{"t":5246,"a":39.5,"l":37.0,"h":44.0},{"t":5251,"a":35.3,"l":33.5,"h":39.0},{"t":5256,"a":38.5,"l":36.5,"h":43.0},{"t":5259,"a":33.0,"l":31.0,"h":37.0},{"t":5263,"a":23.1,"l":21.5,"h":30.0},{"t":5267,"a":39.3,"l":37.0,"h":44.0},{"t":5271,"a":36.0,"l":34.0,"h":47.9},{"t":5275,"a":38.5,"l":36.5,"h":43.0},{"t":5279,"a":31.2,"l":29.5,"h":36.0},{"t":5285,"a":40.4,"l":37.5,"h":46.0},{"t":5290,"a":36.0,"l":34.0,"h":40.0},{"t":5296,"a":38.2,"l":36.5,"h":42.0},{"t":5300,"a":35.0,"l":33.0,"h":39.0},{"t":5305,"a":39.0,"l":37.0,"h":44.0},{"t":5308,"a":43.2,"l":38.0,"h":50.3},{"t":5310,"a":31.0,"l":29.0,"h":36.0},{"t":5315,"a":38.0,"l":36.0,"h":42.0},{"t":5318,"a":39.8,"l":37.5,"h":44.0},{"t":5322,"a":36.0,"l":34.0,"h":47.6},{"t":5327,"a":20.1,"l":17.8,"h":30.0},{"t":5331,"a":33.0,"l":31.0,"h":37.0},{"t":5335,"a":32.2,"l":30.5,"h":36.0},{"t":5340,"a":37.0,"l":35.5,"h":40.0},{"t":5345,"a":38.2,"l":36.5,"h":41.0},{"t":5350,"a":33.0,"l":31.5,"h":36.0},{"t":5355,"a":26.0,"l":24.5,"h":30.0},{"t":5359,"a":24.0,"l":22.5,"h":27.0},{"t":5362,"a":20.0,"l":18.5,"h":24.0},{"t":5366,"a":16.4,"l":14.3,"h":20.0},{"t":5370,"a":22.0,"l":20.0,"h":25.0},{"t":5374,"a":26.7,"l":25.0,"h":29.0},{"t":5378,"a":21.2,"l":20.0,"h":25.0},{"t":5381,"a":25.0,"l":23.0,"h":28.0},{"t":5384,"a":38.0,"l":36.5,"h":39.2},{"t":5390,"a":37.6,"l":36.8,"h":38.9},{"t":5396,"a":38.0,"l":37.2,"h":39.2},{"t":5401,"a":37.7,"l":36.9,"h":38.9},{"t":5407,"a":38.0,"l":37.2,"h":39.2},{"t":5412,"a":35.8,"l":33.7,"h":38.0},{"t":5416,"a":37.8,"l":37.0,"h":39.0},{"t":5421,"a":38.2,"l":37.3,"h":39.4},{"t":5425,"a":36.0,"l":34.5,"h":38.0},{"t":5429,"a":38.5,"l":37.3,"h":41.8},{"t":5434,"a":37.6,"l":36.8,"h":38.9},{"t":5440,"a":38.2,"l":37.3,"h":39.4},{"t":5446,"a":37.6,"l":36.8,"h":38.9},{"t":5451,"a":38.0,"l":37.2,"h":39.2},{"t":5457,"a":37.5,"l":36.7,"h":38.8},{"t":5462,"a":38.2,"l":37.3,"h":39.4},{"t":5468,"a":37.6,"l":36.8,"h":38.9},{"t":5473,"a":38.0,"l":37.2,"h":39.2},{"t":5479,"a":37.5,"l":36.7,"h":38.8},{"t":5484,"a":37.8,"l":37.0,"h":39.0},{"t":5487,"a":4.9,"l":3.8,"h":37.0},{"t":5491,"a":17.5,"l":16.0,"h":18.5},{"t":5495,"a":18.2,"l":17.0,"h":18.8},{"t":5499,"a":16.0,"l":15.0,"h":17.5},{"t":5502,"a":17.8,"l":16.5,"h":18.5},{"t":5507,"a":18.1,"l":17.0,"h":18.8},{"t":5510,"a":9.0,"l":7.5,"h":15.0},{"t":5513,"a":5.9,"l":5.3,"h":10.0},{"t":5517,"a":14.0,"l":12.5,"h":16.0},{"t":5521,"a":18.4,"l":17.0,"h":19.0},{"t":5525,"a":15.5,"l":14.5,"h":17.0},{"t":5529,"a":15.0,"l":14.0,"h":16.5},{"t":5533,"a":17.0,"l":15.5,"h":18.0},{"t":5537,"a":13.3,"l":12.5,"h":15.0},{"t":5541,"a":16.5,"l":15.0,"h":17.5},{"t":5546,"a":17.8,"l":16.5,"h":18.5},{"t":5550,"a":13.7,"l":12.8,"h":15.0},{"t":5555,"a":16.5,"l":15.0,"h":17.5},{"t":5558,"a":17.3,"l":16.0,"h":18.0},{"t":5562,"a":14.0,"l":13.0,"h":15.5},{"t":5566,"a":12.6,"l":11.8,"h":14.0},{"t":5570,"a":16.0,"l":14.5,"h":17.0},{"t":5574,"a":15.4,"l":14.5,"h":16.5},{"t":5578,"a":15.0,"l":14.0,"h":16.0},{"t":5585,"a":15.6,"l":14.8,"h":16.5},{"t":5590,"a":15.0,"l":14.0,"h":16.0},{"t":5596,"a":15.4,"l":14.5,"h":16.5},{"t":5602,"a":13.7,"l":12.8,"h":15.0},{"t":5606,"a":16.0,"l":15.0,"h":17.0},{"t":5611,"a":17.3,"l":16.0,"h":18.0},{"t":5615,"a":15.0,"l":14.0,"h":16.0},{"t":5619,"a":14.0,"l":13.0,"h":15.0},{"t":5624,"a":15.5,"l":14.5,"h":16.5},{"t":5629,"a":15.4,"l":14.5,"h":16.5},{"t":5635,"a":14.0,"l":13.0,"h":15.0},{"t":5641,"a":10.8,"l":10.0,"h":12.5},{"t":5646,"a":13.0,"l":12.0,"h":14.5},{"t":5652,"a":15.4,"l":14.5,"h":16.5},{"t":5657,"a":16.0,"l":15.0,"h":17.0},{"t":5663,"a":17.5,"l":16.5,"h":18.5},{"t":5668,"a":15.0,"l":14.0,"h":16.0},{"t":5674,"a":12.6,"l":11.8,"h":14.0},{"t":5679,"a":15.0,"l":14.0,"h":16.0},{"t":5685,"a":18.4,"l":17.0,"h":19.0},{"t":5690,"a":16.5,"l":15.5,"h":17.5},{"t":5696,"a":14.7,"l":13.8,"h":15.5},{"t":5701,"a":16.0,"l":15.0,"h":17.0},{"t":5707,"a":17.3,"l":16.0,"h":18.0},{"t":5712,"a":14.0,"l":13.0,"h":15.0},{"t":5718,"a":10.5,"l":9.5,"h":12.0},{"t":5722,"a":12.5,"l":11.5,"h":13.5},{"t":5724,"a":10.0,"l":9.0,"h":11.0},{"t":5729,"a":9.8,"l":9.0,"h":11.0},{"t":5734,"a":13.0,"l":12.0,"h":14.5},{"t":5741,"a":22.6,"l":20.0,"h":23.0},{"t":5746,"a":4.2,"l":3.8,"h":8.0},{"t":5752,"a":4.5,"l":3.5,"h":6.0},{"t":5756,"a":3.3,"l":2.5,"h":5.0},{"t":5760,"a":14.2,"l":12.0,"h":17.5},{"t":5766,"a":3.3,"l":0.9,"h":6.0}
]},
"encoding":{
  "x":{"field":"t","type":"quantitative","title":"Time",
    "scale":{"domain":[-60,5824],"nice":false,"zero":false},
    "axis":{"values":[-60,0,60,120,180,240,300,360,420,480,540,600,660,720,780,840,900,960,1020,1080,1140,1200,1260,1320,1380,1440,1500,1560,1620,1680,1740,1800,1860,1920,1980,2040,2100,2160,2220,2280,2340,2400,2460,2520,2580,2640,2700,2760,2820,2880,2940,3000,3060,3120,3180,3240,3300,3360,3420,3480,3540,3600,3660,3720,3780,3840,3900,3960,4020,4080,4140,4200,4260,4320,4380,4440,4500,4560,4620,4680,4740,4800,4860,4920,4980,5040,5100,5160,5220,5280,5340,5400,5460,5520,5580,5640,5700,5760,5820],
      "labelExpr":"datum.value % 300 === 0 ? utcFormat(datum.value * 1000, '%H:%M:%S') : ''",
      "tickSize":{"condition":{"test":"datum.value % 300 === 0","value":9},"value":5},
      "labelAngle":-45,"labelAlign":"right","labelBaseline":"top","labelOverlap":false,"labelFlush":false,"labelPadding":2,"titlePadding":14}
  }
},
"layer":[
  {"mark":{"type":"area","opacity":1,"interpolate":"linear"},
   "encoding":{
     "y":{"field":"l","type":"quantitative","title":"Bitrate (Mbps)",
       "scale":{"domain":[0,54.3],"nice":false,"zero":true},
       "axis":{"values":[0,2,4,6,8,10,12,14,16,18,20,22,24,26,28,30,32,34,36,38,40,42,44,46,48,50,52,54],
         "labelExpr":"datum.value % 10 === 0 ? datum.label : ''",
         "tickSize":{"condition":{"test":"datum.value % 10 === 0","value":9},"value":5},
         "labelOverlap":false,"labelPadding":3,"titlePadding":4}},
     "y2":{"field":"h"},
     "color":{"datum":"Max / Min","type":"nominal",
       "scale":{"domain":["Max / Min"],"range":["#ebebeb"]},
       "legend":{"orient":"none","legendX":10,"legendY":-50,"title":null,
         "labelFontSize":14,"labelColor":"#333","labelFont":"Open Sans","symbolSize":400,"labelOffset":6,"padding":0,
         "symbolType":"M-1,0.63L-1,0L1,-0.63L1,0.63Z","symbolOpacity":1}}
   }},
  {"mark":{"type":"line","strokeWidth":2.4,"interpolate":"linear"},
   "encoding":{
     "y":{"field":"a","type":"quantitative","title":"Bitrate (Mbps)",
       "scale":{"domain":[0,54.3],"nice":false,"zero":true},
       "axis":{"values":[0,2,4,6,8,10,12,14,16,18,20,22,24,26,28,30,32,34,36,38,40,42,44,46,48,50,52,54],
         "labelExpr":"datum.value % 10 === 0 ? datum.label : ''",
         "tickSize":{"condition":{"test":"datum.value % 10 === 0","value":9},"value":5},
         "labelOverlap":false,"labelPadding":3,"titlePadding":4}},
     "color":{"datum":"Average","type":"nominal",
       "scale":{"domain":["Average"],"range":["#808080"]},
       "legend":{"orient":"none","legendX":133,"legendY":-50,"title":null,
         "labelFontSize":14,"labelColor":"#333","labelFont":"Open Sans","symbolSize":400,"labelOffset":6,"padding":0,
         "symbolType":"stroke","symbolStrokeWidth":2,"symbolOpacity":1}}
   }}
],
"resolve":{"scale":{"color":"independent"},"legend":{"color":"independent"}},
"config":{
  "font":"Open Sans",
  "view":{"stroke":"#333","strokeWidth":1},
  "axis":{"grid":false,"domainColor":"#333","tickColor":"#333","labelColor":"#333","titleColor":"#333","labelFontSize":14,"titleFontSize":14,"titleFontWeight":"normal","labelFont":"Open Sans","titleFont":"Open Sans"}
}
}
